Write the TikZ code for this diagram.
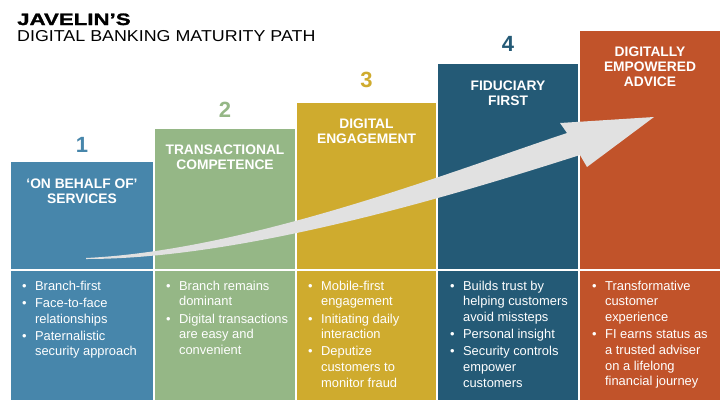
\documentclass[tikz,border=0pt]{standalone}
\usepackage{fontspec}
\setmainfont{Liberation Sans}
\newfontfamily\heavyfont{Liberation Sans}[FakeBold=1.5,FakeStretch=1.35]
\newfontfamily\widefont{Liberation Sans}[FakeStretch=1.13]
\definecolor{cA}{HTML}{4786AB}
\definecolor{cB}{HTML}{95B786}
\definecolor{cC}{HTML}{CFAB2E}
\definecolor{cD}{HTML}{245A76}
\definecolor{cE}{HTML}{C1532A}
\definecolor{arrowgray}{HTML}{E1E1E1}
\newcommand\bitem{\textbullet}
\begin{document}
\begin{tikzpicture}[x=1pt,y=-1pt,
  colbox/.style={anchor=north west, inner sep=0pt, outer sep=0pt, draw=none},
  num/.style={anchor=base, inner sep=0pt, font=\fontsize{22}{22}\selectfont\bfseries},
  head/.style={anchor=north, inner sep=0pt, align=center, text=white, font=\fontsize{13.8}{15}\selectfont\bfseries},
  bul/.style={anchor=north west, inner sep=0pt, text=white, font=\fontsize{12.9}{15.7}\selectfont},
  divider/.style={draw=white, line width=1.2pt},
]
\useasboundingbox[fill=white] (0,0) rectangle (723,400);

% titles
\node[anchor=base west, inner sep=0pt, font=\heavyfont\bfseries\fontsize{16.5}{18}\selectfont] (title) at (17,25) {JAVELIN’S};
\node[anchor=base west, inner sep=0pt, font=\widefont\fontsize{15.8}{18}\selectfont] (subtitle) at (17,41) {DIGITAL BANKING MATURITY PATH};

% columns
\node[colbox, fill=cA, minimum width=142pt, minimum height=238pt] (col1) at (11,162) {};
\node[colbox, fill=cB, minimum width=140pt, minimum height=271pt] (col2) at (155,129) {};
\node[colbox, fill=cC, minimum width=139pt, minimum height=297pt] (col3) at (297,103) {};
\node[colbox, fill=cD, minimum width=140pt, minimum height=336pt] (col4) at (438,64) {};
\node[colbox, fill=cE, minimum width=140pt, minimum height=369pt] (col5) at (580,31) {};

% divider between header and bullet parts
\draw[divider] (11,270) -- (720,270);

% numbers
\node[num, text=cA] (n1) at (82,152) {1};
\node[num, text=cB] (n2) at (225,117) {2};
\node[num, text=cC] (n3) at (366.5,87) {3};
\node[num, text=cD] (n4) at (508,51) {4};

% arrow
\fill[arrowgray] (86,258) .. controls (250,250) and (450,172) .. (567,133)
  -- (560,123) -- (654,117) -- (587,167) -- (580,155)
  .. controls (470,190) and (250,259) .. (86,259) -- cycle;

% headers
\node[head] (h1) at (82,179) {‘ON BEHALF OF’\\SERVICES};
\node[head] (h2) at (225,145) {TRANSACTIONAL\\COMPETENCE};
\node[head] (h3) at (366.5,119) {DIGITAL\\ENGAGEMENT};
\node[head] (h4) at (508,81) {FIDUCIARY\\FIRST};
\node[head] (h5) at (650,47) {DIGITALLY\\EMPOWERED\\ADVICE};

% bullets
\node[bul] (b1) at (22,279) {\begin{tabular}{@{}l@{\hspace{8.4pt}}l@{}}
\bitem & Branch-first\\[1.5pt]
\bitem & Face-to-face\\
 & relationships\\[1.5pt]
\bitem & Paternalistic\\
 & security approach
\end{tabular}};
\node[bul] (b2) at (166,279) {\begin{tabular}{@{}l@{\hspace{8.4pt}}l@{}}
\bitem & Branch remains\\
 & dominant\\[1.5pt]
\bitem & Digital transactions\\
 & are easy and\\
 & convenient
\end{tabular}};
\node[bul] (b3) at (308,279) {\begin{tabular}{@{}l@{\hspace{8.4pt}}l@{}}
\bitem & Mobile-first\\
 & engagement\\[1.5pt]
\bitem & Initiating daily\\
 & interaction\\[1.5pt]
\bitem & Deputize\\
 & customers to\\
 & monitor fraud
\end{tabular}};
\node[bul] (b4) at (450,279) {\begin{tabular}{@{}l@{\hspace{8.4pt}}l@{}}
\bitem & Builds trust by\\
 & helping customers\\
 & avoid missteps\\[1.5pt]
\bitem & Personal insight\\[1.5pt]
\bitem & Security controls\\
 & empower\\
 & customers
\end{tabular}};
\node[bul] (b5) at (592,279) {\begin{tabular}{@{}l@{\hspace{8.4pt}}l@{}}
\bitem & Transformative\\
 & customer\\
 & experience\\[1.5pt]
\bitem & FI earns status as\\
 & a trusted adviser\\
 & on a lifelong\\
 & financial journey
\end{tabular}};
\end{tikzpicture}
\end{document}
